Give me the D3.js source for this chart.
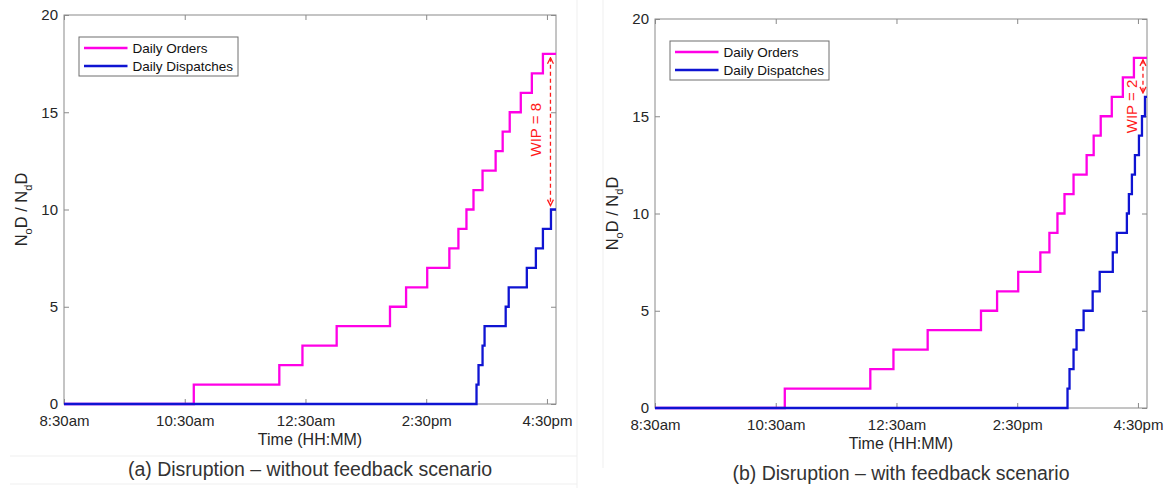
<!DOCTYPE html>
<html>
<head>
<meta charset="utf-8">
<script src="https://cdnjs.cloudflare.com/ajax/libs/d3/7.8.5/d3.min.js"></script>
<style>
body{margin:0;background:#fff;}
svg{display:block;font-family:"Liberation Sans",Arial,sans-serif;}
</style>
</head>
<body>
<svg width="1167" height="488"></svg>
<script>
// values, times are clock times HH:MM
var dayStart='08:30', dayEnd='16:39';
var tickTimes=['08:30','10:30','12:30','14:30','16:30'];
var tickLabels=['8:30am','10:30am','12:30am','2:30pm','4:30pm'];
var yTicks=[0,5,10,15,20];
var legendLabels=['Daily Orders','Daily Dispatches'];
var captions=['(a) Disruption \u2013 without feedback scenario','(b) Disruption \u2013 with feedback scenario'];

var orderTimes=['08:30','10:39','12:04','12:27','13:01','13:54','14:10','14:31','14:53','15:02','15:10','15:17','15:26','15:39','15:46','15:53','16:04','16:15','16:26'];
var orderCounts=[0,1,2,3,4,5,6,7,8,9,10,11,12,13,14,15,16,17,18];

var dispTimesA=['08:30','15:20','15:22','15:26','15:28','15:49','15:52','16:10','16:19','16:26','16:34'];
var dispCountsA=[0,1,2,3,4,5,6,7,8,9,10];

var dispTimesB=['08:30','15:20','15:22','15:26','15:29','15:36','15:45','15:52','16:05','16:09','16:19','16:21','16:24','16:27','16:31','16:34','16:37'];
var dispCountsB=[0,1,2,3,4,5,6,7,8,9,10,11,12,13,14,15,16];

// WIP annotation: [arrow time, top value, bottom value, label time, label value, label]
var wipA=['16:33.5',17.8,10.2,'16:19',14.1,'WIP = 8'];
var wipB=['16:35',17.9,16.2,'16:23.5',15.5,'WIP = 2'];

var W=492, H=389;
var magenta='#ff00e6', blue='#0f14d2', boxGrey='#8a8a8a', txt='#262626';

var parseT=function(s){
	var p=s.split(':');
	return new Date(2000,0,1,+p[0],0,+p[1]*60);
};

var x=d3.scaleTime()
		.domain([parseT(dayStart),parseT(dayEnd)])
		.range([0,W]);
var y=d3.scaleLinear()
		.domain([0,20])
		.range([H,0]);

var line=d3.line()
		.x(d=>x(d[0]))
		.y(d=>y(d[1]))
		.curve(d3.curveStepAfter);

function steps(times,counts){
	var pts=times.map((t,i)=>[parseT(t),counts[i]]);
	pts.push([parseT(dayEnd),counts[counts.length-1]]);
	return pts;
}

var svg=d3.select('svg');

// faint frame lines of the original figure panels
svg.append('g')
	.attr('stroke','#efefef')
	.selectAll('line')
	.data([[577,0,577,488],[603,0,603,468],[10,456,577,456],[10,484,577,484]])
	.enter().append('line')
		.attr('x1',d=>d[0]).attr('y1',d=>d[1])
		.attr('x2',d=>d[2]).attr('y2',d=>d[3]);

var defs=svg.append('defs');
defs.append('marker')
	.attr('id','chev')
	.attr('viewBox','0 0 8 8')
	.attr('refX',7).attr('refY',4)
	.attr('markerWidth',8).attr('markerHeight',8)
	.attr('markerUnits','userSpaceOnUse')
	.attr('orient','auto-start-reverse')
	.append('path')
		.attr('d','M1,1 L7,4 L1,7')
		.attr('fill','none')
		.attr('stroke','#ff1a1a')
		.attr('stroke-width',1.3);

var panels=[
	{left:64,top:15,disp:steps(dispTimesA,dispCountsA),wip:wipA,caption:captions[0]},
	{left:655,top:19,disp:steps(dispTimesB,dispCountsB),wip:wipB,caption:captions[1]}
];

panels.forEach(function(p){
	var g=svg.append('g').attr('transform','translate('+p.left+','+p.top+')');

	g.append('rect')
		.attr('width',W).attr('height',H)
		.attr('fill','none')
		.attr('stroke',boxGrey);

	var tv=tickTimes.map(parseT);

	var xb=d3.axisBottom(x).tickValues(tv)
			.tickFormat((d,i)=>tickLabels[i])
			.tickSizeInner(-5).tickSizeOuter(0).tickPadding(11);
	var xt=d3.axisTop(x).tickValues(tv).tickFormat('')
			.tickSizeInner(-5).tickSizeOuter(0);
	var yl=d3.axisLeft(y).tickValues(yTicks)
			.tickSizeInner(-5).tickSizeOuter(0).tickPadding(6);
	var yr=d3.axisRight(y).tickValues(yTicks).tickFormat('')
			.tickSizeInner(-5).tickSizeOuter(0);

	[[xb,'0,'+H],[xt,'0,0'],[yl,'0,0'],[yr,W+',0']].forEach(function(a){
		var ag=g.append('g').attr('transform','translate('+a[1]+')').call(a[0]);
		ag.select('.domain').remove();
		ag.selectAll('line').attr('stroke',boxGrey);
		ag.selectAll('text')
			.attr('fill',txt)
			.style('font-size','15px')
			.style('font-family','"Liberation Sans",Arial,sans-serif');
	});

	// series
	g.append('path')
		.attr('d',line(steps(orderTimes,orderCounts)))
		.attr('fill','none')
		.attr('stroke',magenta)
		.attr('stroke-width',2.3);
	g.append('path')
		.attr('d',line(p.disp))
		.attr('fill','none')
		.attr('stroke',blue)
		.attr('stroke-width',2.3);

	// WIP arrow + label
	var w=p.wip;
	g.append('line')
		.attr('x1',x(parseT(w[0]))).attr('x2',x(parseT(w[0])))
		.attr('y1',y(w[1])).attr('y2',y(w[2]))
		.attr('stroke','#ff1a1a')
		.attr('stroke-width',1.3)
		.attr('stroke-dasharray','4,3')
		.attr('marker-start','url(#chev)')
		.attr('marker-end','url(#chev)');
	g.append('text')
		.attr('transform','translate('+x(parseT(w[3]))+','+y(w[4])+') rotate(-90)')
		.attr('dy','0.35em')
		.attr('text-anchor','middle')
		.attr('fill','#ff1a1a')
		.style('font-size','15px')
		.text(w[5]);

	// legend
	var lg=g.append('g').attr('transform','translate(15,22)');
	lg.append('rect')
		.attr('width',159).attr('height',39)
		.attr('fill','#fff')
		.attr('stroke','#6e6e6e');
	lg.selectAll('g.item')
		.data(legendLabels)
		.enter().append('g')
		.attr('class','item')
		.attr('transform',(d,i)=>'translate(0,'+(11+i*18)+')')
		.each(function(d,i){
			var it=d3.select(this);
			it.append('line')
				.attr('x1',5).attr('x2',48.5)
				.attr('stroke',i===0?magenta:blue)
				.attr('stroke-width',2.3);
			it.append('text')
				.attr('x',53.5).attr('dy','0.35em')
				.attr('fill','#111')
				.style('font-size','13.5px')
				.text(d);
		});

	// axis titles
	g.append('text')
		.attr('x',W/2).attr('y',H+41)
		.attr('text-anchor','middle')
		.attr('fill',txt)
		.style('font-size','16px')
		.text('Time (HH:MM)');

	var yt=g.append('text')
		.attr('transform','translate(-37,'+(H/2)+') rotate(-90)')
		.attr('text-anchor','middle')
		.attr('fill',txt)
		.style('font-size','16.5px');
	yt.append('tspan').text('N');
	yt.append('tspan').attr('dy',5).style('font-size','11px').text('o');
	yt.append('tspan').attr('dy',-5).text('D / N');
	yt.append('tspan').attr('dy',5).style('font-size','11px').text('d');
	yt.append('tspan').attr('dy',-5).text('D');

	g.append('text')
		.attr('x',W/2).attr('y',H+71.5)
		.attr('text-anchor','middle')
		.attr('fill','#333')
		.style('font-size','19.5px')
		.text(p.caption);
});
</script>
</body>
</html>
